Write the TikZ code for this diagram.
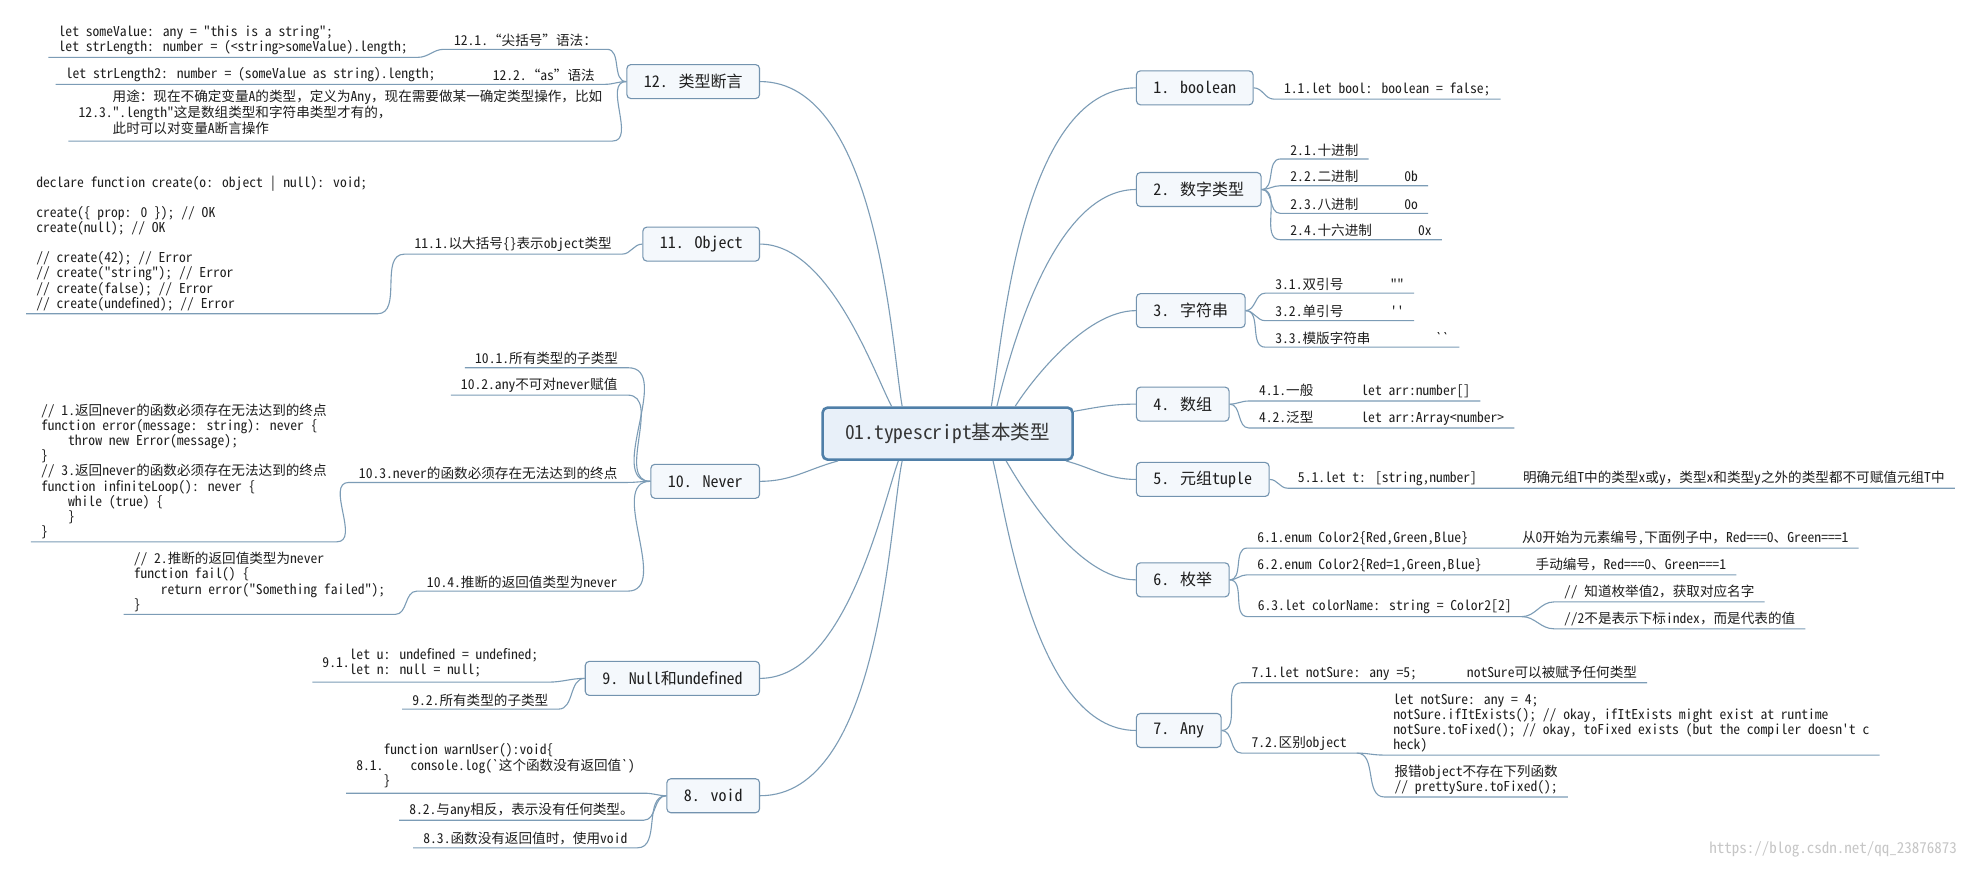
\documentclass[tikz,border=0pt]{standalone}
\usepackage{fontspec}
\setmainfont[RawFeature=+hwid,Ligatures=TeXOff]{Noto Sans CJK SC}
\newfontfamily\fullcjk[Ligatures=TeXOff]{Noto Sans CJK SC}
\usepackage{xcolor}
\definecolor{linkblue}{HTML}{7C9CB6}
\definecolor{rootline}{HTML}{4F7FA8}
\definecolor{rootfill}{HTML}{E8F0F9}
\definecolor{topicline}{HTML}{7393AF}
\definecolor{topicfill}{HTML}{F4F8FC}
\definecolor{inkgray}{HTML}{1E1E1E}
\newcommand\leaffont{\fontsize{13.6}{15.2}\selectfont}
\newcommand\topicfont{\fontsize{16}{19}\selectfont}
\newcommand\rootfont{\fontsize{19.5}{23}\selectfont}
\newcommand\codeindent{\hspace*{27pt}}
\newcommand\fw[1]{{\fullcjk #1}}
\tikzset{
  rootbox/.style={draw=rootline, line width=2.6pt, fill=rootfill, rounded corners=5pt,
    minimum width=250pt, minimum height=52pt, font=\rootfont, text=inkgray!90},
  topic/.style={draw=topicline, line width=1.1pt, fill=topicfill, rounded corners=4pt,
    minimum height=34pt, inner xsep=17pt, font=\topicfont, text=inkgray},
  leaf/.style={inner xsep=10pt, inner ysep=2.5pt, font=\leaffont, text=inkgray, align=left},
  leafR/.style={leaf, anchor=south west},
  leafL/.style={leaf, anchor=south east},
  link/.style={draw=linkblue, line width=1.1pt},
  trunk/.style={link, out looseness=0.45, in looseness=0.85},
}

\begin{document}
\begin{tikzpicture}[x=1.2551pt, y=1.2551pt]
  \useasboundingbox (0,0) rectangle (1568,692);
  \fill[white] (0,0) rectangle (1568,692);

  % central topic
  \node[rootbox] (root) at (755,346.5) {01.typescript基本类型};

  % right branches
  \node[topic, anchor=west] (b1) at (905,622) {1. boolean};
  \node[topic, anchor=west] (b2) at (905,541) {2. 数字类型};
  \node[topic, anchor=west] (b3) at (905,444.5) {3. 字符串};
  \node[topic, anchor=west] (b4) at (905,370) {4. 数组};
  \node[topic, anchor=west] (b5) at (905,310) {5. 元组tuple};
  \node[topic, anchor=west] (b6) at (905,230) {6. 枚举};
  \node[topic, anchor=west] (b7) at (905,110) {7. Any};

  % left branches
  \node[topic, anchor=east] (b12) at (605.6,627) {12. 类型断言};
  \node[topic, anchor=east] (b11) at (605.6,497.5) {11. Object};
  \node[topic, anchor=east] (b10) at (605.6,308.5) {10. Never};
  \node[topic, anchor=east] (b9) at (605.6,151.5) {9. Null和undefined};
  \node[topic, anchor=east] (b8) at (605.6,58) {8. void};

  % right leaves
  \node[leafR] (c11) at (1015,613) {1.1.let bool: boolean = false;};
  \node[leafR] (c21) at (1020,565.3) {2.1.十进制};
  \node[leafR] (c22) at (1020,544) {2.2.二进制\hspace{46pt}0b};
  \node[leafR] (c23) at (1020,522) {2.3.八进制\hspace{46pt}0o};
  \node[leafR] (c24) at (1020,501) {2.4.十六进制\hspace{46pt}0x};
  \node[leafR] (c31) at (1008,458.4) {3.1.双引号\hspace{47pt}""};
  \node[leafR] (c32) at (1008,436.5) {3.2.单引号\hspace{47pt}''};
  \node[leafR] (c33) at (1008,415.4) {3.3.模版字符串\hspace{65pt}``};
  \node[leafR] (c41) at (995,372.5) {4.1.一般\hspace{48pt}let arr:number[]};
  \node[leafR] (c42) at (995,351) {4.2.泛型\hspace{48pt}let arr:Array<number>};
  \node[leafR] (c51) at (1026,303) {5.1.let t: [string,number]\hspace{46pt}明确元组T中的类型x或y\fw{，}类型x和类型y之外的类型都不可赋值元组T中};
  \node[leafR] (c61) at (993.6,255.3) {6.1.enum Color2\{Red,Green,Blue\}\hspace{54pt}从0开始为元素编号,下面例子中\fw{，}Red===0\fw{、}Green===1};
  \node[leafR] (c62) at (993.6,234) {6.2.enum Color2\{Red=1,Green,Blue\}\hspace{54pt}手动编号\fw{，}Red===0\fw{、}Green===1};
  \node[leafR] (c63) at (994,200.7) {6.3.let colorName: string = Color2[2]};
  \node[leafR] (c631) at (1238,212.4) {// 知道枚举值2\fw{，}获取对应名字};
  \node[leafR] (c632) at (1238,191) {//2不是表示下标index\fw{，}而是代表的值};
  \node[leafR] (c71) at (989,148) {7.1.let notSure: any =5;\hspace{50pt}notSure可以被赋予任何类型};
  \node[leafR] (c72) at (989,92) {7.2.区别object};
  \node[leafR] (c721) at (1102,90.4) {let notSure: any = 4;\\notSure.ifItExists(); // okay, ifItExists might exist at runtime\\notSure.toFixed(); // okay, toFixed exists (but the compiler doesn't c\\heck)};
  \node[leafR] (c722) at (1103,57) {报错object不存在下列函数\\// prettySure.toFixed();};

  % left leaves
  \node[leafL] (c121) at (483.7,652.7) {12.1.\fw{“}尖括号\fw{”}语法\fw{：}};
  \node[leafL] (code121) at (333,646.3) {let someValue: any = "this is a string";\\let strLength: number = (<string>someValue).length;};
  \node[leafL] (c122) at (482,624.8) {12.2.\fw{“}as\fw{”}语法};
  \node[leafL] (code122) at (355,624.8) {let strLength2: number = (someValue as string).length;};
  \node[leafL] (c123) at (488,579.6) {12.3.\begin{tabular}{@{}l@{}}用途\fw{：}现在不确定变量A的类型\fw{，}定义为Any\fw{，}现在需要做某一确定类型操作\fw{，}比如\\".length"这是数组类型和字符串类型才有的\fw{，}\\此时可以对变量A断言操作\end{tabular}};
  \node[leafL] (c111) at (495.6,489.5) {11.1.以大括号\{\}表示object类型};
  \node[leafL] (code111) at (300.7,442) {declare function create(o: object | null): void;\\[15pt]create(\{ prop: 0 \}); // OK\\create(null); // OK\\[15pt]// create(42); // Error\\// create("string"); // Error\\// create(false); // Error\\// create(undefined); // Error};
  \node[leafL] (c101) at (500.5,399) {10.1.所有类型的子类型};
  \node[leafL] (c102) at (500,377.2) {10.2.any不可对never赋值};
  \node[leafL] (c103) at (500,307.6) {10.3.never的函数必须存在无法达到的终点};
  \node[leafL] (code103) at (268.4,260.3) {// 1.返回never的函数必须存在无法达到的终点\\function error(message: string): never \{\\\codeindent throw new Error(message);\\\}\\// 3.返回never的函数必须存在无法达到的终点\\function infiniteLoop(): never \{\\\codeindent while (true) \{\\\codeindent\}\\\}};
  \node[leafL] (c104) at (500,221) {10.4.推断的返回值类型为never};
  \node[leafL] (code104) at (315,202.5) {// 2.推断的返回值类型为never\\function fail() \{\\\codeindent return error("Something failed");\\\}};
  \node[leafL] (c91) at (437,148.5) {9.1.\begin{tabular}{@{}l@{}}let u: undefined = undefined;\\let n: null = null;\end{tabular}};
  \node[leafL] (c92) at (445,127) {9.2.所有类型的子类型};
  \node[leafL] (c81) at (514,60) {8.1.\begin{tabular}{@{}l@{}}function warnUser():void\{\\\codeindent console.log(`这个函数没有返回值`)\\\}\end{tabular}};
  \node[leafL] (c82) at (513,38.5) {8.2.与any相反\fw{，}表示没有任何类型\fw{。}};
  \node[leafL] (c83) at (508,16.5) {8.3.函数没有返回值时\fw{，}使用void};

  % watermark
  \node[font=\fontsize{15}{18}\selectfont, text=gray!45, anchor=east] (mark) at (1562,15) {https://blog.csdn.net/qq\_23876873};

  % root to branches
  \draw[trunk] (root.32) to[out=80,in=180] (b1.west);
  \draw[trunk] (root.29) to[out=76,in=180] (b2.west);
  \draw[trunk] (root.22) to[out=58,in=180] (b3.west);
  \draw[link] (root.10) to[out=10,in=180] (b4.west);
  \draw[link] (root.-13) to[out=-15,in=180] (b5.west);
  \draw[trunk] (root.-25) to[out=-60,in=180] (b6.west);
  \draw[trunk] (root.-31) to[out=-76,in=180] (b7.west);
  \draw[trunk] (root.149) to[out=100,in=0] (b12.east);
  \draw[trunk] (root.154) to[out=118,in=0] (b11.east);
  \draw[link] (root.194) to[out=195,in=0] (b10.east);
  \draw[trunk] (root.209) to[out=250,in=0] (b9.east);
  \draw[trunk] (root.211) to[out=258,in=0] (b8.east);

  % right branches to leaves
  \draw[link] (b1.east) to[out=0,in=180] (c11.south west) -- (c11.south east);
  \foreach \leaf in {c21,c22,c23,c24}
    \draw[link] (b2.east) to[out=0,in=180] (\leaf.south west) -- (\leaf.south east);
  \foreach \leaf in {c31,c32,c33}
    \draw[link] (b3.east) to[out=0,in=180] (\leaf.south west) -- (\leaf.south east);
  \foreach \leaf in {c41,c42}
    \draw[link] (b4.east) to[out=0,in=180] (\leaf.south west) -- (\leaf.south east);
  \draw[link] (b5.east) to[out=0,in=180] (c51.south west) -- (c51.south east);
  \foreach \leaf in {c61,c62,c63}
    \draw[link] (b6.east) to[out=0,in=180] (\leaf.south west) -- (\leaf.south east);
  \foreach \leaf in {c631,c632}
    \draw[link] (c63.south east) to[out=0,in=180] (\leaf.south west) -- (\leaf.south east);
  \foreach \leaf in {c71,c72}
    \draw[link] (b7.east) to[out=0,in=180] (\leaf.south west) -- (\leaf.south east);
  \foreach \leaf in {c721,c722}
    \draw[link] (c72.south east) to[out=0,in=180] (\leaf.south west) -- (\leaf.south east);

  % left branches to leaves
  \draw[link] (b12.west) to[out=180,in=0] (c121.south east) -- (c121.south west)
    to[out=180,in=0] (code121.south east) -- (code121.south west);
  \draw[link] (b12.west) to[out=180,in=0] (c122.south east) -- (c122.south west)
    -- (code122.south east) -- (code122.south west);
  \draw[link] (b12.west) to[out=180,in=0] (c123.south east) -- (c123.south west);
  \draw[link] (b11.west) to[out=180,in=0] (c111.south east) -- (c111.south west)
    to[out=180,in=0] (code111.south east) -- (code111.south west);
  \foreach \leaf in {c101,c102}
    \draw[link] (b10.west) to[out=180,in=0] (\leaf.south east) -- (\leaf.south west);
  \draw[link] (b10.west) to[out=180,in=0] (c103.south east) -- (c103.south west)
    to[out=180,in=0] (code103.south east) -- (code103.south west);
  \draw[link] (b10.west) to[out=180,in=0] (c104.south east) -- (c104.south west)
    to[out=180,in=0] (code104.south east) -- (code104.south west);
  \foreach \leaf in {c91,c92}
    \draw[link] (b9.west) to[out=180,in=0] (\leaf.south east) -- (\leaf.south west);
  \foreach \leaf in {c81,c82,c83}
    \draw[link] (b8.west) to[out=180,in=0] (\leaf.south east) -- (\leaf.south west);
\end{tikzpicture}
\end{document}
